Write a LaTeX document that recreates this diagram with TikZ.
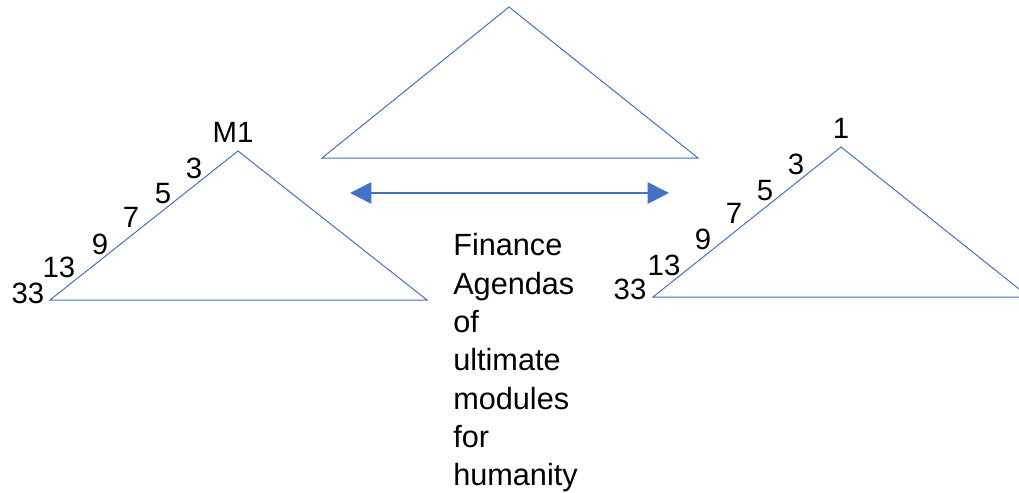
\documentclass[tikz,border=0pt]{standalone}
\usepackage{fontspec}
\setmainfont{Liberation Sans}
\usetikzlibrary{arrows.meta}
\definecolor{lineblue}{HTML}{4472C4}

\begin{document}
\begin{tikzpicture}[x=0.75pt, y=-0.75pt, every node/.style={font=\fontsize{22}{26}\selectfont, inner sep=0pt}, >={Triangle[length=16pt,width=16pt]}, tri/.style={draw=lineblue, line width=0.75pt}]
	\clip (0,0) rectangle (1019,492);
	% top triangle
	\coordinate (ta) at (509,7);
	\coordinate (tl) at (322,158);
	\coordinate (tr) at (698,158);
	\draw[tri] (ta) -- (tr) -- (tl) -- cycle;
	% left triangle
	\coordinate (la) at (238,151);
	\coordinate (ll) at (50,300);
	\coordinate (lr) at (427,300);
	\draw[tri] (la) -- (lr) -- (ll) -- cycle;
	% right triangle
	\coordinate (ra) at (841,147);
	\coordinate (rl) at (653,297);
	\coordinate (rr) at (1029,297);
	\draw[tri] (ra) -- (rr) -- (rl) -- cycle;
	% double arrow
	\coordinate (al) at (350,193);
	\coordinate (ar) at (669,193);
	\draw[<->, lineblue, line width=1.2pt] (al) -- (ar);
	% left labels
	\node (lm) at (233,132) {M1};
	\node (l3) at (194,168) {3};
	\node (l5) at (163,194) {5};
	\node (l7) at (131,217) {7};
	\node (l9) at (100,244) {9};
	\node (l13) at (59,267) {13};
	\node (l33) at (28,293) {33};
	% right labels
	\node (r1) at (841,128) {1};
	\node (r3) at (796,164) {3};
	\node (r5) at (765,191) {5};
	\node (r7) at (734,213) {7};
	\node (r9) at (703,239) {9};
	\node (r13) at (664,265) {13};
	\node (r33) at (630,289) {33};
	% middle text
	\node[anchor=north west, align=left, font=\fontsize{23}{28.75}\selectfont] (agenda) at (453,233.5) {Finance\\Agendas\\of\\ultimate\\modules\\for\\humanity};
\end{tikzpicture}
\end{document}
